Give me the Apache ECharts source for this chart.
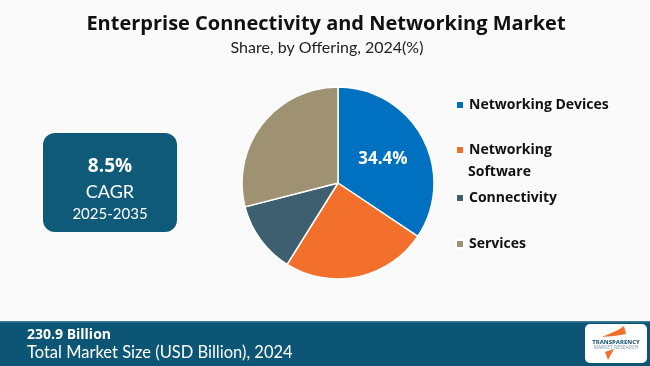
<!DOCTYPE html>
<html><head><meta charset="utf-8">
<script src="https://cdn.jsdelivr.net/npm/echarts@6/dist/echarts.min.js"></script>
<style>html,body{margin:0;padding:0;background:#fafafa}#c{width:650px;height:366px}</style>
</head><body><div id="c"></div>
<script>
const categories = ['Networking Devices', 'Networking Software', 'Connectivity', 'Services'];
const legendFirstLine = ['Networking Devices', 'Networking', 'Connectivity', 'Services'];
const legendSecondLine = ['', 'Software', '', ''];
const shares = [34.4, 24.5, 12.1, 29.0];
const colors = ['#0070C0', '#F26F2C', '#3D5F6F', '#9F9272'];
const titleText = 'Enterprise Connectivity and Networking Market';
const subtitleText = 'Share, by Offering, 2024(%)';
const cagrValue = '8.5%';
const cagrPeriod = '2025-2035';
const marketSize = '230.9 Billion';
const marketLabel = 'Total Market Size (USD Billion), 2024';

const legendCenters = [105, 150, 198, 244];
const chart = echarts.init(document.getElementById('c'));
const font = '"Open Sans", "Noto Sans", sans-serif';
const thin = 'Lato, sans-serif';
const graphics = [
  {type: 'rect', shape: {x: 43, y: 133, width: 134, height: 99, r: 12}, style: {fill: '#0E5A78'}},
  {type: 'text', x: 110, y: 167, style: {text: cagrValue, fill: '#fff', font: 'bold 19px ' + font, textAlign: 'center', textVerticalAlign: 'middle'}},
  {type: 'text', x: 110, y: 192, style: {text: 'CAGR', fill: '#fff', font: '18px ' + thin, textAlign: 'center', textVerticalAlign: 'middle'}},
  {type: 'text', x: 110, y: 214, style: {text: cagrPeriod, fill: '#fff', font: '15px ' + thin, textAlign: 'center', textVerticalAlign: 'middle'}},
  {type: 'rect', shape: {x: 0, y: 321, width: 650, height: 45}, style: {fill: '#0C5575'}},
  {type: 'rect', shape: {x: 0, y: 321, width: 650, height: 1.5}, style: {fill: '#3E7C96'}},
  {type: 'text', x: 27, y: 335, style: {text: marketSize, fill: '#fff', font: 'bold 14px ' + font, textVerticalAlign: 'middle'}},
  {type: 'text', x: 27, y: 353, style: {text: marketLabel, fill: '#fff', font: '16.5px ' + thin, textVerticalAlign: 'middle'}},
  {type: 'rect', shape: {x: 585, y: 324, width: 62, height: 39, r: 5}, style: {fill: '#ffffff'}},
  {type: 'polygon', shape: {points: [[602, 337], [618, 330], [624, 326], [626, 334], [614, 336]]}, style: {fill: '#F26F2C'}},
  {type: 'polygon', shape: {points: [[605, 352], [614, 349], [608, 360]]}, style: {fill: '#F26F2C'}},
  {type: 'text', x: 616, y: 342, style: {text: 'TRANSPARENCY', fill: '#0C4A6A', font: 'bold 6px ' + font, textAlign: 'center', textVerticalAlign: 'middle'}},
  {type: 'text', x: 616, y: 348, style: {text: 'MARKET RESEARCH', fill: '#7a9aa8', font: '5px ' + font, textAlign: 'center', textVerticalAlign: 'middle'}}
];
legendSecondLine.forEach((t, i) => {
  if (t) graphics.push({type: 'text', x: 468, y: legendCenters[i] + 22,
    style: {text: t, fill: '#111', font: 'bold 14px ' + font, textVerticalAlign: 'middle'}});
});
chart.setOption({
  backgroundColor: '#fafafa',
  animation: false,
  title: [{
    text: titleText, left: 321, textAlign: 'center', top: 9,
    textStyle: {fontFamily: font, fontSize: 20, fontWeight: 'bold', color: '#111'}
  }, {
    text: subtitleText, left: 322, textAlign: 'center', top: 35,
    textStyle: {fontFamily: thin, fontSize: 16, fontWeight: 'normal', color: '#222'}
  }],
  legend: categories.map((c, i) => ({
    data: [c], orient: 'vertical', left: 450, top: legendCenters[i] - 16,
    icon: 'rect', itemWidth: 8, itemHeight: 8, itemGap: 0,
    selectedMode: false,
    formatter: () => legendFirstLine[i],
    textStyle: {fontFamily: font, fontSize: 14, fontWeight: 'bold', color: '#111', lineHeight: 22}
  })),
  series: [{
    type: 'pie', center: [338, 183], radius: 96, startAngle: 90, clockwise: true,
    itemStyle: {borderColor: '#ffffff', borderWidth: 1.5},
    label: {show: false}, labelLine: {show: false},
    data: categories.map((c, i) => ({
      name: c, value: shares[i], itemStyle: {color: colors[i]},
      label: i === 0 ? {show: true, position: 'inside', formatter: '{c}%',
        fontFamily: font, fontSize: 17, fontWeight: 'bold', color: '#fff'} : {show: false}
    }))
  }],
  graphic: graphics
});
</script></body></html>
